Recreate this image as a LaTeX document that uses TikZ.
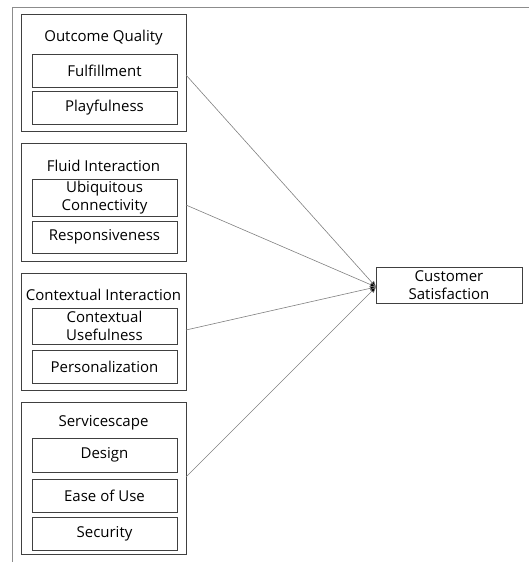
\documentclass[tikz,border=0pt]{standalone}
\usepackage{fontspec}
\setmainfont{Open Sans}
\usetikzlibrary{arrows.meta}
\begin{document}
\begin{tikzpicture}[x=1pt,y=-1pt,
  font=\fontsize{15}{18}\selectfont,
  group/.style={draw=black!75,line width=0.9pt},
  item/.style={draw=black!75,line width=0.9pt,align=center,inner sep=0pt},
  title/.style={inner sep=0pt,anchor=center},
  link/.style={draw=black!50,line width=0.6pt,-{Triangle[length=6pt,width=5pt,fill=black]}}]
\useasboundingbox (0,0) rectangle (529,562);
% page frame
\draw[black!45,line width=0.8pt] (12,562) -- (12,7) -- (529,7);

% outcome quality
\draw[group] (21,14) rectangle (186,131);
\node[title] (t1) at (103.5,38) {Outcome Quality};
\node[item,minimum width=145pt,minimum height=33pt] (fu) at (104.5,70.5) {Fulfillment};
\node[item,minimum width=145pt,minimum height=33pt] (pl) at (104.5,107.5) {Playfulness};
\coordinate (g1) at (186,75);

% fluid interaction
\draw[group] (21,143) rectangle (186,261);
\node[title] (t2) at (103.5,166) {Fluid Interaction};
\node[item,minimum width=145pt,minimum height=37pt] (ub) at (104.5,197.5) {Ubiquitous\\Connectivity};
\node[item,minimum width=145pt,minimum height=32pt] (re) at (104.5,237) {Responsiveness};
\coordinate (g2) at (186,205);

% contextual interaction
\draw[group] (21,273) rectangle (186,390);
\node[title] (t3) at (103.5,295) {Contextual Interaction};
\node[item,minimum width=145pt,minimum height=36pt] (cu) at (104.5,326) {Contextual\\Usefulness};
\node[item,minimum width=145pt,minimum height=33pt] (pe) at (104.5,366.5) {Personalization};
\coordinate (g3) at (186,330);

% servicescape
\draw[group] (21,402) rectangle (186,554);
\node[title] (t4) at (103.5,423) {Servicescape};
\node[item,minimum width=145pt,minimum height=34pt] (de) at (104.5,455) {Design};
\node[item,minimum width=145pt,minimum height=33pt] (ea) at (104.5,495.5) {Ease of Use};
\node[item,minimum width=145pt,minimum height=33pt] (se) at (104.5,533.5) {Security};
\coordinate (g4) at (186,477);

% outcome
\node[item,minimum width=146pt,minimum height=36pt] (cs) at (449,285) {Customer\\Satisfaction};
\coordinate (tip) at (376,287);

\foreach \g in {g1,g2,g3,g4} \draw[link] (\g) -- (tip);
\end{tikzpicture}
\end{document}
